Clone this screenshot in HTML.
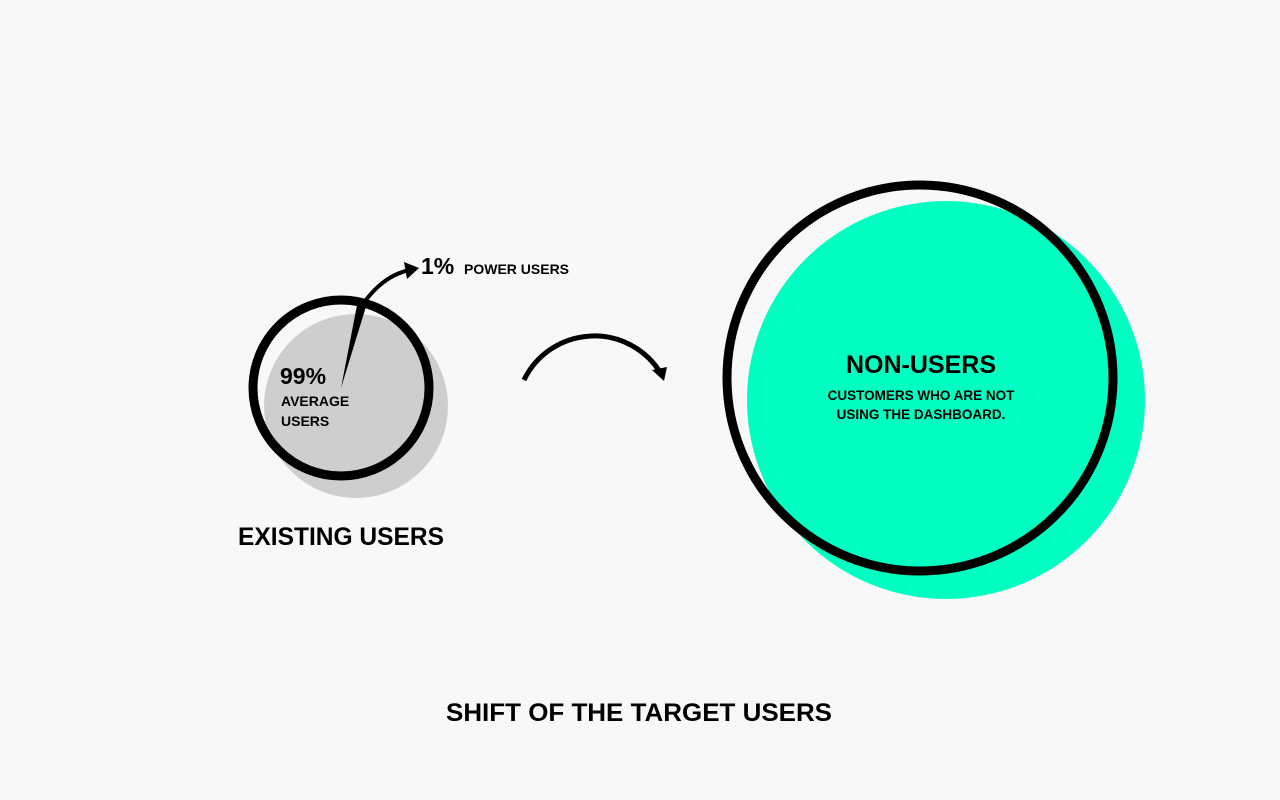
<!DOCTYPE html>
<html><head><style>
body{margin:0;background:#f8f8f8;width:1280px;height:800px;overflow:hidden;font-family:"Liberation Sans",sans-serif}
svg{position:absolute;left:0;top:0}
text{font-family:"Liberation Sans",sans-serif;font-weight:bold;fill:#000}
</style></head><body>
<svg width="1280" height="800" viewBox="0 0 1280 800">
<circle cx="356" cy="406" r="92" fill="#cecece"/>
<circle cx="341" cy="388" r="88" fill="none" stroke="#000" stroke-width="9"/>
<polygon points="341,388 358,300 368,300" fill="#000"/>
<path d="M366,300 Q385,275 410,270" fill="none" stroke="#000" stroke-width="4"/>
<polygon points="404,262 419,268 407,279" fill="#000"/>
<text x="421" y="274" font-size="23">1%</text>
<text x="464" y="274" font-size="14">POWER USERS</text>
<text x="280" y="384" font-size="23">99%</text>
<text x="281" y="406" font-size="14">AVERAGE</text>
<text x="281" y="426" font-size="14">USERS</text>
<text x="238" y="545" font-size="25" textLength="206" lengthAdjust="spacingAndGlyphs">EXISTING USERS</text>
<path d="M524,380 A78,78 0 0 1 660,372" fill="none" stroke="#000" stroke-width="5"/>
<polygon points="652,370 667,367 664,381" fill="#000"/>
<circle cx="946" cy="400" r="199" fill="#00ffc0"/>
<circle cx="920" cy="378" r="193" fill="none" stroke="#000" stroke-width="9"/>
<text x="921" y="373" font-size="25" text-anchor="middle">NON-USERS</text>
<text x="921" y="400" font-size="13.5" text-anchor="middle">CUSTOMERS WHO ARE NOT</text>
<text x="921" y="419" font-size="13.5" text-anchor="middle">USING THE DASHBOARD.</text>
<text x="446" y="721" font-size="25" textLength="386" lengthAdjust="spacingAndGlyphs">SHIFT OF THE TARGET USERS</text>
</svg>
</body></html>
